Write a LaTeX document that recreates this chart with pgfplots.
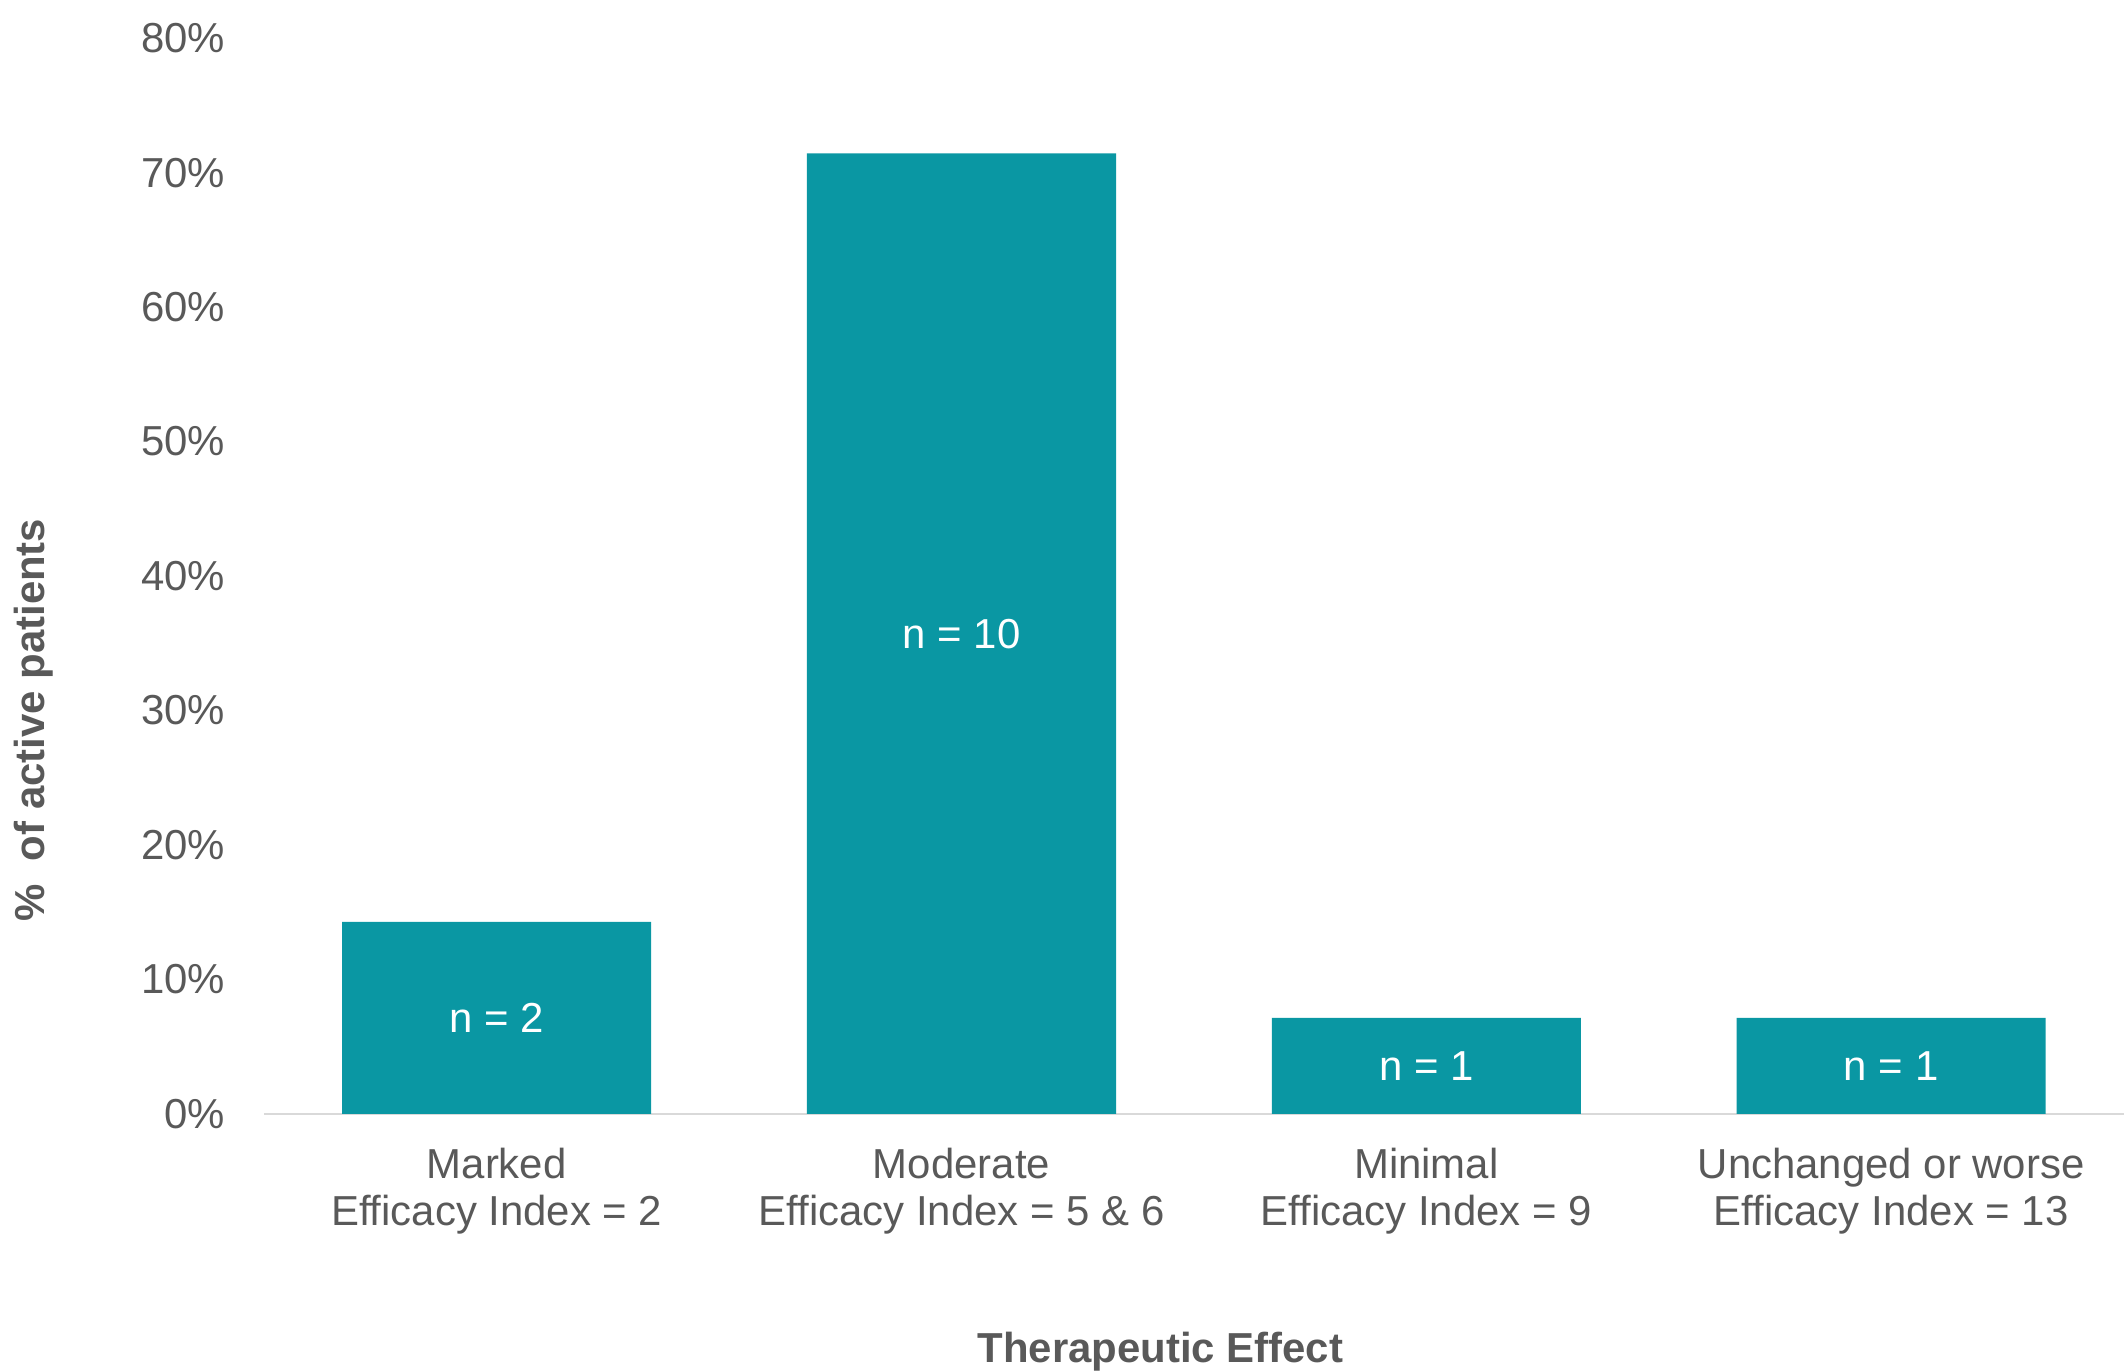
\documentclass[border=0pt]{standalone}
\usepackage{pgfplots}
\pgfplotsset{compat=1.18}
\usepackage{fontspec}
\setmainfont{Liberation Sans}
\definecolor{teal}{HTML}{0A97A3}
\definecolor{txt}{HTML}{595959}
\definecolor{baseline}{HTML}{D9D9D9}

\begin{document}
\begin{tikzpicture}
\begin{axis}[
  name=ax,
  scale only axis,
  width=385.9pt, height=223.3pt,
  xmin=-0.5, xmax=3.5,
  ymin=0, ymax=80,
  axis lines*=left,
  x axis line style={draw=baseline, line width=0.6pt},
  y axis line style={draw=none},
  major tick length=0pt,
  xtick={0,1,2,3},
  xticklabels={{Marked\\Efficacy Index = 2},{Moderate\\Efficacy Index = 5 \& 6},{Minimal\\Efficacy Index = 9},{Unchanged or worse\\Efficacy Index = 13}},
  ytick={0,10,...,80},
  yticklabels={0\%,10\%,20\%,30\%,40\%,50\%,60\%,70\%,80\%},
  font=\fontsize{8.7}{9.9}\selectfont,
  tick label style={text=txt},
  xticklabel style={align=center, yshift=-3.5pt},
  yticklabel style={xshift=-4.6pt},
  xlabel={\textbf{Therapeutic Effect}},
  xlabel style={at={(rel axis cs:0.482,0)}, anchor=center, yshift=-49.3pt, text=txt},
  ylabel={\textbf{\%\ \ of active patients}},
  ylabel style={at={(rel axis cs:0,0.366)}, anchor=center, yshift=47.8pt, text=txt},
  clip=false,
]
% share of 14 active patients
\addplot[ybar, bar width=0.665, fill=teal, draw=none] coordinates {
  (0,14.29) (1,71.43) (2,7.14) (3,7.14)
};
% labels at half bar height
\addplot[draw=none, mark=none, nodes near coords, point meta=explicit symbolic,
  nodes near coords style={anchor=center, text=white, font=\fontsize{8.7}{9.9}\selectfont}]
  coordinates {
  (0,7.14)[n = 2] (1,35.71)[n = 10] (2,3.57)[n = 1] (3,3.57)[n = 1]
};
\end{axis}
\pgfresetboundingbox
\path[use as bounding box] (ax.south west) ++(-54.85pt,-53.4pt) rectangle ++(441.05pt,284.6pt);
\end{tikzpicture}
\end{document}
